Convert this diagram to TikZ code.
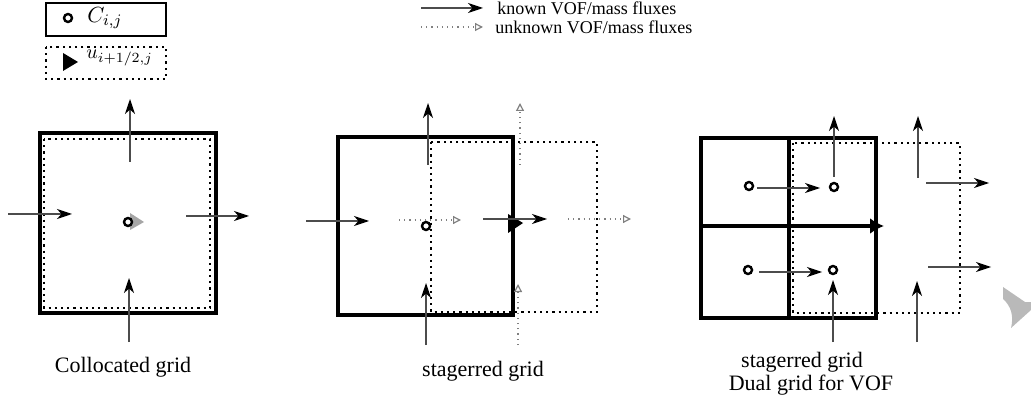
\documentclass[tikz,border=0pt]{standalone}
\usepackage{fontspec}
\setmainfont{Liberation Serif}
\usetikzlibrary{arrows.meta}

\tikzset{
	known/.style={draw=black!70, line width=0.6pt, -{Stealth[length=7.5pt,width=5pt,inset=2.2pt,color=black]}},
	unknown/.style={draw=black!50, line width=0.6pt, dotted, -{Triangle[open,length=4pt,width=4pt]}},
	cellbox/.style={draw, line width=1.6pt},
	facebox/.style={draw, line width=1.1pt, dotted},
	cellpt/.style={circle, draw, line width=1.2pt, fill=white, inner sep=0pt, minimum size=4pt},
	gridtext/.style={font=\fontsize{11}{13}\selectfont},
	keytext/.style={font=\fontsize{9}{11}\selectfont, anchor=west, inner sep=0pt},
}

\begin{document}
\begin{tikzpicture}[x=0.5pt, y=-0.5pt]
\useasboundingbox (0,0) rectangle (1031,405);

%Legend boxes
\draw[cellbox, line width=1.4pt] (46,3) rectangle (166,36);
\node[cellpt] (kcell) at (68,18) {};
\node[anchor=west, inner sep=0pt, font=\fontsize{11}{13}\selectfont] (kcelltext) at (87,18) {$C_{i,j}$};

\draw[facebox] (46,47) rectangle (166,79);
\fill (63,53) -- (78,62) -- (63,71) -- cycle;
\node[anchor=west, inner sep=0pt, font=\fontsize{10}{12}\selectfont] (kfacetext) at (86,58) {$u_{i+1/2,j}$};

%Legend arrows
\coordinate (kka) at (421,8);
\coordinate (kkb) at (483,8);
\draw[known] (kka) -- (kkb);
\node[keytext] (kktext) at (497,8) {known VOF/mass fluxes};

\coordinate (kua) at (421,27);
\coordinate (kub) at (483,27);
\draw[unknown] (kua) -- (kub);
\node[keytext] (kutext) at (495,27) {unknown VOF/mass fluxes};


%Collocated grid
\draw[cellbox] (40,133) rectangle (216,313);
\draw[facebox] (44,139) rectangle (210,308);
\fill[gray!70] (130,213) -- (144,222) -- (130,230) -- cycle;
\node[cellpt] (cc) at (128,222) {};

\coordinate (cta) at (130,162);
\coordinate (ctb) at (130,99);
\draw[known] (cta) -- (ctb);
\coordinate (cwa) at (8,214);
\coordinate (cwb) at (72,214);
\draw[known] (cwa) -- (cwb);
\coordinate (cea) at (186,216);
\coordinate (ceb) at (249,216);
\draw[known] (cea) -- (ceb);
\coordinate (cba) at (129,342);
\coordinate (cbb) at (129,278);
\draw[known] (cba) -- (cbb);

\node[gridtext] (ctext) at (123,367) {Collocated grid};


%Staggered grid
\draw[cellbox] (338,137) rectangle (513,315);
\draw[facebox] (431,142) rectangle (597,312);
\fill (508,214) -- (523,223) -- (508,233) -- cycle;
\node[cellpt] (sc) at (426,226) {};

\coordinate (sta) at (428,165);
\coordinate (stb) at (428,103);
\draw[known] (sta) -- (stb);
\coordinate (sua) at (520,165);
\coordinate (sub) at (520,103);
\draw[unknown] (sua) -- (sub);
\coordinate (swa) at (306,221);
\coordinate (swb) at (369,221);
\draw[known] (swa) -- (swb);
\coordinate (sma) at (399,220);
\coordinate (smb) at (461,220);
\draw[unknown] (sma) -- (smb);
\coordinate (sea) at (483,219);
\coordinate (seb) at (547,219);
\draw[known] (sea) -- (seb);
\coordinate (sfa) at (568,219);
\coordinate (sfb) at (631,219);
\draw[unknown] (sfa) -- (sfb);
\coordinate (sba) at (426,345);
\coordinate (sbb) at (426,283);
\draw[known] (sba) -- (sbb);
\coordinate (sva) at (518,345);
\coordinate (svb) at (518,284);
\draw[unknown] (sva) -- (svb);

\node[gridtext] (stext) at (483,371) {stagerred grid};


%Dual grid
\draw[facebox] (793,143) rectangle (960,313);
\draw[cellbox] (701,138) rectangle (876,318);
\draw[cellbox] (789,138) -- (789,318);
\coordinate (dha) at (701,226);
\coordinate (dhb) at (884,226);
\draw[cellbox, -{Latex[length=7pt,width=8pt]}] (dha) -- (dhb);

\node[cellpt] (dnw) at (749,186) {};
\node[cellpt] (dne) at (834,187) {};
\node[cellpt] (dsw) at (748,270) {};
\node[cellpt] (dse) at (833,270) {};

\coordinate (d1a) at (757,188);
\coordinate (d1b) at (820,188);
\draw[known] (d1a) -- (d1b);
\coordinate (d2a) at (759,272);
\coordinate (d2b) at (822,272);
\draw[known] (d2a) -- (d2b);
\coordinate (d3a) at (926,183);
\coordinate (d3b) at (989,183);
\draw[known] (d3a) -- (d3b);
\coordinate (d4a) at (928,267);
\coordinate (d4b) at (991,267);
\draw[known] (d4a) -- (d4b);

\coordinate (d5a) at (834,177);
\coordinate (d5b) at (834,116);
\draw[known] (d5a) -- (d5b);
\coordinate (d6a) at (918,178);
\coordinate (d6b) at (918,116);
\draw[known] (d6a) -- (d6b);
\coordinate (d7a) at (833,342);
\coordinate (d7b) at (833,280);
\draw[known] (d7a) -- (d7b);
\coordinate (d8a) at (917,342);
\coordinate (d8b) at (917,281);
\draw[known] (d8a) -- (d8b);

\node[gridtext] (dtext) at (802,362) {stagerred grid};
\node[gridtext] (dtextb) at (811,385) {Dual grid for VOF};

%corner mark
\fill[gray!55] (1003,287) -- (1025,302) -- (1031,302) -- (1031,310) -- (1011,328) .. controls (1014,316) and (1011,306) .. (1003,299) -- cycle;

\end{tikzpicture}
\end{document}
